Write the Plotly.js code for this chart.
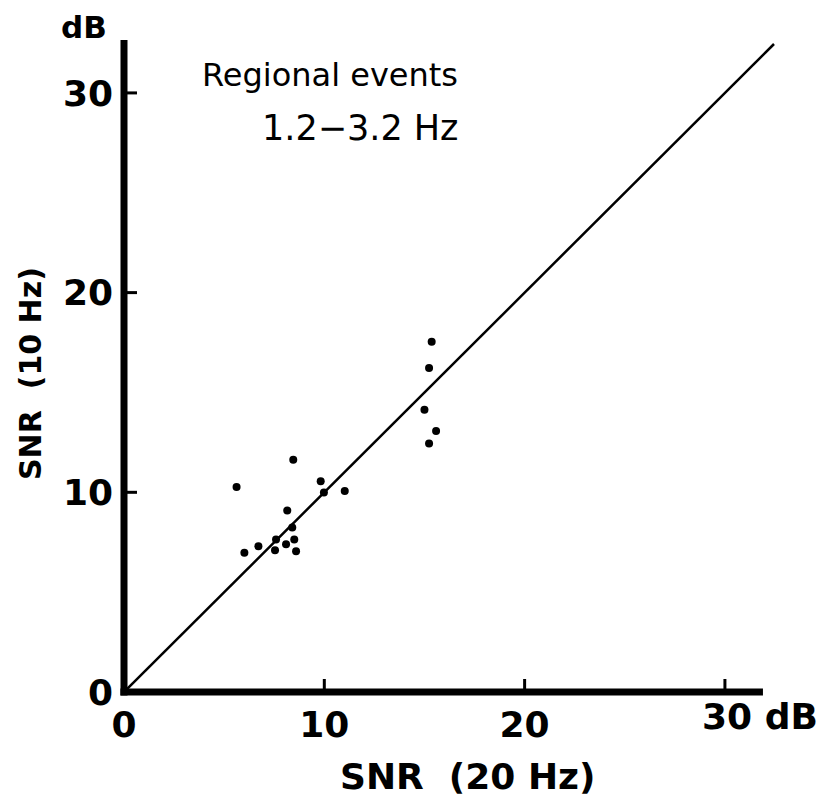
<!DOCTYPE html>
<html>
<head>
<meta charset="utf-8">
<script src="https://cdn.plot.ly/plotly-3.0.1.min.js"></script>
<style>html,body{margin:0;padding:0;background:#fff;}</style>
</head>
<body>
<div id="chart" style="width:819px;height:800px;"></div>
<script>
// SNR measured with 20 Hz sampling (x) and 10 Hz sampling (y), dB
const snr20 = [8.45, 5.62, 9.82, 9.98, 11.02, 8.15, 8.40, 7.59, 8.50, 8.09, 6.71, 6.01, 7.54, 8.59, 15.36, 15.23, 15.00, 15.58, 15.23];
const snr10 = [11.63, 10.27, 10.55, 9.99, 10.07, 9.09, 8.24, 7.64, 7.64, 7.40, 7.30, 6.97, 7.10, 7.05, 17.54, 16.22, 14.14, 13.07, 12.44];
// 1:1 reference line
const lineX = [0, 32.45];
const lineY = [0, 32.45];
const xTickVals = [0, 10, 20, 30];
const xTickText = ["0", "10", "20", ""];
const yTickVals = [0, 10, 20, 30];
const yTickText = ["0", "10", "20", "30"];

const boldFont = {family: "DejaVu Sans", size: 36, color: "#000", weight: 700};

const traces = [
  {x: lineX, y: lineY, type: "scatter", mode: "lines",
   line: {color: "#000", width: 2.5}, hoverinfo: "skip", showlegend: false},
  {x: snr20, y: snr10, type: "scatter", mode: "markers",
   marker: {color: "#000", size: 8, symbol: "circle"}, showlegend: false, cliponaxis: false}
];

// inward tick marks, built from the tick value arrays
const tickLenX = 13 / 651, tickLenY = 13 / 652;
const tickShapes = [];
xTickVals.filter(v => v > 0).forEach(v => tickShapes.push(
  {type: "line", xref: "x", yref: "paper", x0: v, x1: v, y0: 0, y1: tickLenY,
   line: {color: "#000", width: 3}}));
yTickVals.filter(v => v > 0).forEach(v => tickShapes.push(
  {type: "line", xref: "paper", yref: "y", x0: 0, x1: tickLenX, y0: v, y1: v,
   line: {color: "#000", width: 3}}));

const layout = {
  width: 819, height: 800,
  margin: {l: 124, r: 44, t: 40, b: 108, pad: 0},
  paper_bgcolor: "#fff", plot_bgcolor: "#fff",
  showlegend: false,
  xaxis: {
    range: [0, 32.5], showgrid: false, zeroline: false, showline: false,
    tickmode: "array", tickvals: xTickVals, ticktext: xTickText,
    ticks: "", tickfont: boldFont, ticklabelstandoff: 8
  },
  yaxis: {
    range: [0, 32.65], showgrid: false, zeroline: false, showline: false,
    tickmode: "array", tickvals: yTickVals, ticktext: yTickText,
    ticks: "", tickfont: boldFont, ticklabelstandoff: 10
  },
  shapes: [
    {type: "line", xref: "paper", yref: "paper", x0: -0.0055, x1: 0.9815, y0: 0, y1: 0,
     line: {color: "#000", width: 7}},
    {type: "line", xref: "paper", yref: "paper", x0: 0, x1: 0, y0: -0.0055, y1: 1,
     line: {color: "#000", width: 7}}
  ].concat(tickShapes),
  annotations: [
    {text: "Regional events", xref: "paper", yref: "paper", x: (330 - 124) / 651, y: (692 - 75) / 652,
     xanchor: "center", yanchor: "middle", showarrow: false,
     font: {family: "DejaVu Sans", size: 32, color: "#000"}},
    {text: "1.2−3.2 Hz", xref: "paper", yref: "paper", x: (360 - 124) / 651, y: (692 - 128) / 652,
     xanchor: "center", yanchor: "middle", showarrow: false,
     font: {family: "DejaVu Sans", size: 35, color: "#000"}},
    {text: "dB", xref: "paper", yref: "paper", x: (83.5 - 124) / 651, y: (692 - 27.5) / 652,
     xanchor: "center", yanchor: "middle", showarrow: false,
     font: {family: "DejaVu Sans", size: 31, color: "#000", weight: 700}},
    {text: "30 dB", xref: "paper", yref: "paper", x: (700 - 124) / 651, y: (692 - 716.5) / 652,
     xanchor: "left", yanchor: "middle", showarrow: false,
     font: boldFont},
    {text: "SNR  (20 Hz)", xref: "paper", yref: "paper", x: (467 - 124) / 651, y: (692 - 776) / 652,
     xanchor: "center", yanchor: "middle", showarrow: false,
     font: {family: "DejaVu Sans", size: 36, color: "#000", weight: 700}},
    {text: "SNR  (10 Hz)", xref: "paper", yref: "paper", x: (31 - 124) / 651, y: (692 - 374) / 652,
     xanchor: "center", yanchor: "middle", showarrow: false, textangle: -90,
     font: {family: "DejaVu Sans", size: 30, color: "#000", weight: 700}}
  ]
};

Plotly.newPlot("chart", traces, layout, {staticPlot: true, displayModeBar: false});
</script>
</body>
</html>
